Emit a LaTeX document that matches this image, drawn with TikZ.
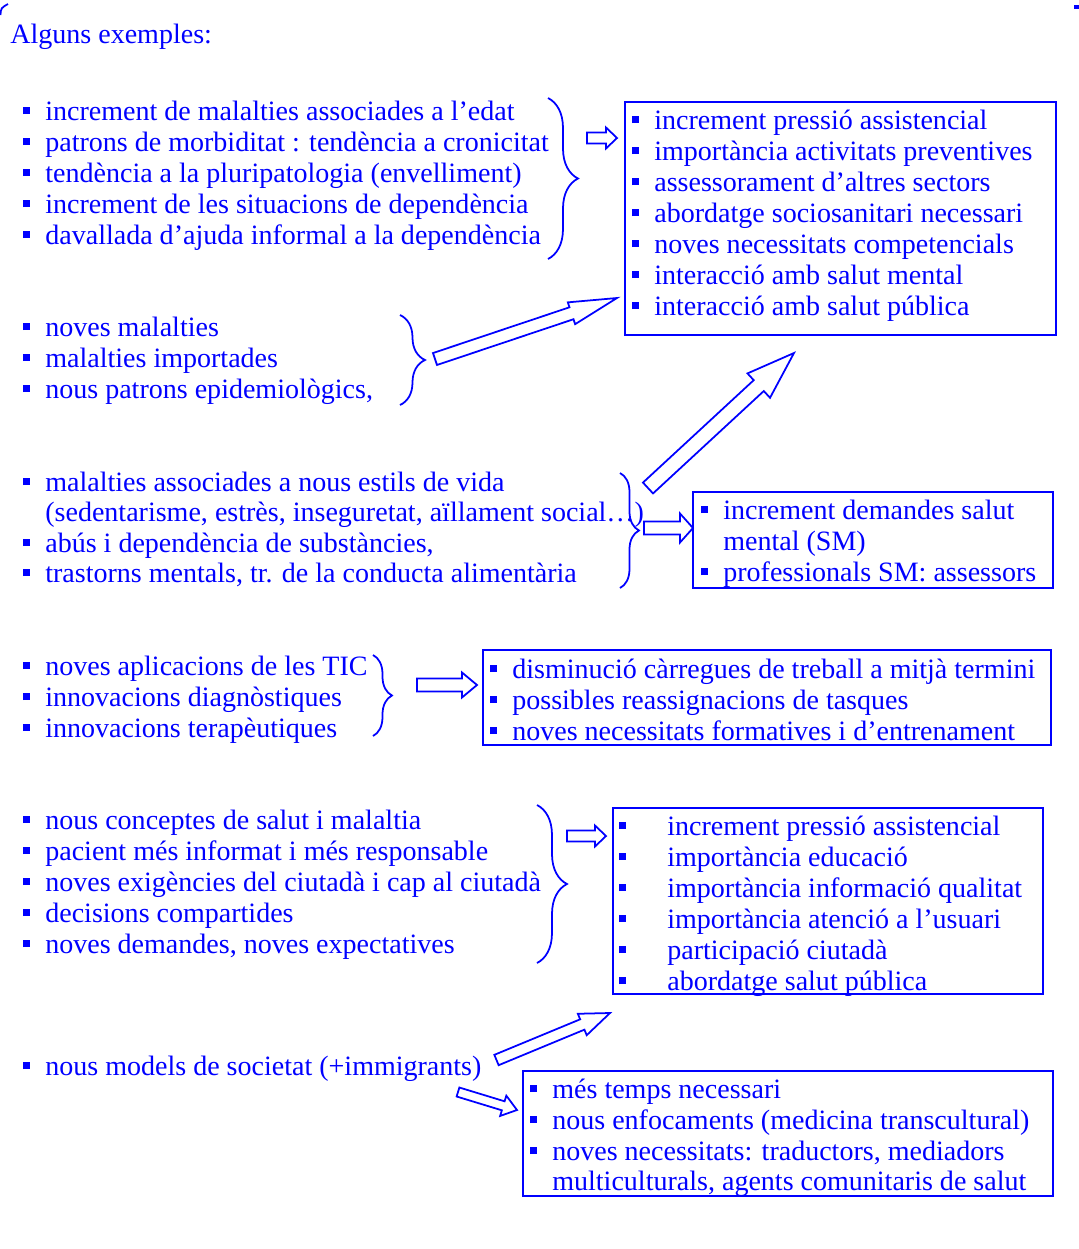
\documentclass[tikz,border=0pt]{standalone}
\usepackage{fontspec}
\setmainfont{Liberation Serif}
\usetikzlibrary{calc,fit,decorations.pathreplacing}
\definecolor{ink}{RGB}{0,0,255}
% square bullet hanging left of the text
\newcommand\sq[1][0.3cm]{\llap{\rule[3.4pt]{4pt}{4pt}\hspace{#1}}}
% hollow block arrow: tail, tip, half shaft, head length, half head (px)
\newcommand\hollow[5]{%
  \coordinate (hb) at ($(#2)!#4*0.02cm!(#1)$);
  \draw[arw] ($(#1)!#3*0.02cm!90:(#2)$) -- ($(hb)!#3*0.02cm!90:(#2)$)
    -- ($(hb)!#5*0.02cm!90:(#2)$) -- (#2) -- ($(hb)!#5*0.02cm!-90:(#2)$)
    -- ($(hb)!#3*0.02cm!-90:(#2)$) -- ($(#1)!#3*0.02cm!-90:(#2)$) -- cycle;}

\begin{document}
\begin{tikzpicture}[x=0.02cm,y=-0.02cm,
  txt/.style={anchor=base west,inner sep=0pt,text=ink,font=\fontsize{15.95}{18}\selectfont},
  box/.style={draw=ink,line width=1.2pt,inner sep=0pt},
  brc/.style={draw=ink,line width=1pt,decorate,decoration={brace,amplitude=#1}},
  arw/.style={draw=ink,line width=1pt,line join=miter}]
  \useasboundingbox (0,0) rectangle (1079,1249);
  \draw[ink,line width=1pt] (0.5,15) .. controls (1,8) .. (8,4);
  \draw[ink,line width=2.5pt] (1074,7) -- (1079,7);

  \node[txt] (title) at (10,43) {Alguns exemples:};

  % boxes
  \node[box,fit={(625,102) (1056,335)}] (b1) {};
  \node[box,fit={(693,492) (1053,588)}] (b3) {};
  \node[box,fit={(483,650) (1051,745)}] (b4) {};
  \node[box,fit={(613,808) (1043,994)}] (b5) {};
  \node[box,fit={(523,1071) (1053,1196)}] (b6) {};

  % left lists
  \foreach \y/\t [count=\i] in {120/{\sq increment de malalties associades a l’edat},
      151/{\sq patrons de morbiditat : tendència a cronicitat},
      182/{\sq tendència a la pluripatologia (envelliment)},
      213/{\sq increment de les situacions de dependència},
      244/{\sq davallada d’ajuda informal a la dependència}} {
    \node[txt] (g1-\i) at (45,\y) {\t};
  }
  \foreach \y/\t [count=\i] in {336/{\sq noves malalties},
      367/{\sq malalties importades},
      398/{\sq nous patrons epidemiològics,}} {
    \node[txt] (g2-\i) at (45,\y) {\t};
  }
  \foreach \y/\t [count=\i] in {491/{\sq malalties associades a nous estils de vida},
      521/{(sedentarisme, estrès, inseguretat, aïllament social…)},
      552/{\sq abús i dependència de substàncies,},
      582/{\sq trastorns mentals, tr. de la conducta alimentària}} {
    \node[txt] (g3-\i) at (45,\y) {\t};
  }
  \foreach \y/\t [count=\i] in {675/{\sq noves aplicacions de les TIC},
      706/{\sq innovacions diagnòstiques},
      737/{\sq innovacions terapèutiques}} {
    \node[txt] (g4-\i) at (45,\y) {\t};
  }
  \foreach \y/\t [count=\i] in {829/{\sq nous conceptes de salut i malaltia},
      860/{\sq pacient més informat i més responsable},
      891/{\sq noves exigències del ciutadà i cap al ciutadà},
      922/{\sq decisions compartides},
      953/{\sq noves demandes, noves expectatives}} {
    \node[txt] (g5-\i) at (45,\y) {\t};
  }
  \node[txt] (g6-1) at (45,1075) {\sq nous models de societat (+immigrants)};

  % box texts
  \foreach \y/\t [count=\i] in {129/increment pressió assistencial,
      160/importància activitats preventives,
      191/assessorament d’altres sectors,
      222/abordatge sociosanitari necessari,
      253/noves necessitats competencials,
      284/interacció amb salut mental,
      315/interacció amb salut pública} {
    \node[txt] (r1-\i) at (654,\y) {\sq\t};
  }
  \foreach \y/\t [count=\i] in {519/{\sq increment demandes salut},
      550/{mental (SM)},
      581/{\sq professionals SM: assessors}} {
    \node[txt] (r3-\i) at (723,\y) {\t};
  }
  \foreach \y/\t [count=\i] in {678/disminució càrregues de treball a mitjà termini,
      709/possibles reassignacions de tasques,
      740/noves necessitats formatives i d’entrenament} {
    \node[txt] (r4-\i) at (512,\y) {\sq\t};
  }
  \foreach \y/\t [count=\i] in {835/increment pressió assistencial,
      866/importància educació,
      897/importància informació qualitat,
      928/importància atenció a l’usuari,
      959/participació ciutadà,
      990/abordatge salut pública} {
    \node[txt] (r5-\i) at (667,\y) {\sq[0.82cm]\t};
  }
  \foreach \y/\t [count=\i] in {1098/{\sq més temps necessari},
      1129/{\sq nous enfocaments (medicina transcultural)},
      1160/{\sq noves necessitats: traductors, mediadors},
      1190/{multiculturals, agents comunitaris de salut}} {
    \node[txt] (r6-\i) at (552,\y) {\t};
  }

  % braces
  \draw[brc=0.6cm] (548,98) -- (548,259);
  \draw[brc=0.5cm] (400,315) -- (400,405);
  \draw[brc=0.38cm] (620,473) -- (620,588);
  \draw[brc=0.38cm] (373,655) -- (373,736);
  \draw[brc=0.6cm] (537,805) -- (537,963);

  % hollow arrows
  \foreach \ax/\ay/\bx/\by/\w/\l/\hw [count=\i] in {587/138/617/138/5.5/11/10.5,
      435/359/617/298/6.3/48/11.5,
      648/488/794/353/7.4/48/16.6,
      644/528/693/528/6.5/13/14.5,
      417/685/477/685/6.5/15/12.5,
      567/836/606/836/5.5/11/10.5,
      496.5/1060/610/1013/5.6/30/11.6,
      458/1092/517/1110/4.7/14.4/10.6} {
    \coordinate (t\i) at (\ax,\ay);
    \coordinate (h\i) at (\bx,\by);
    \hollow{t\i}{h\i}{\w}{\l}{\hw}
  }
\end{tikzpicture}
\end{document}
